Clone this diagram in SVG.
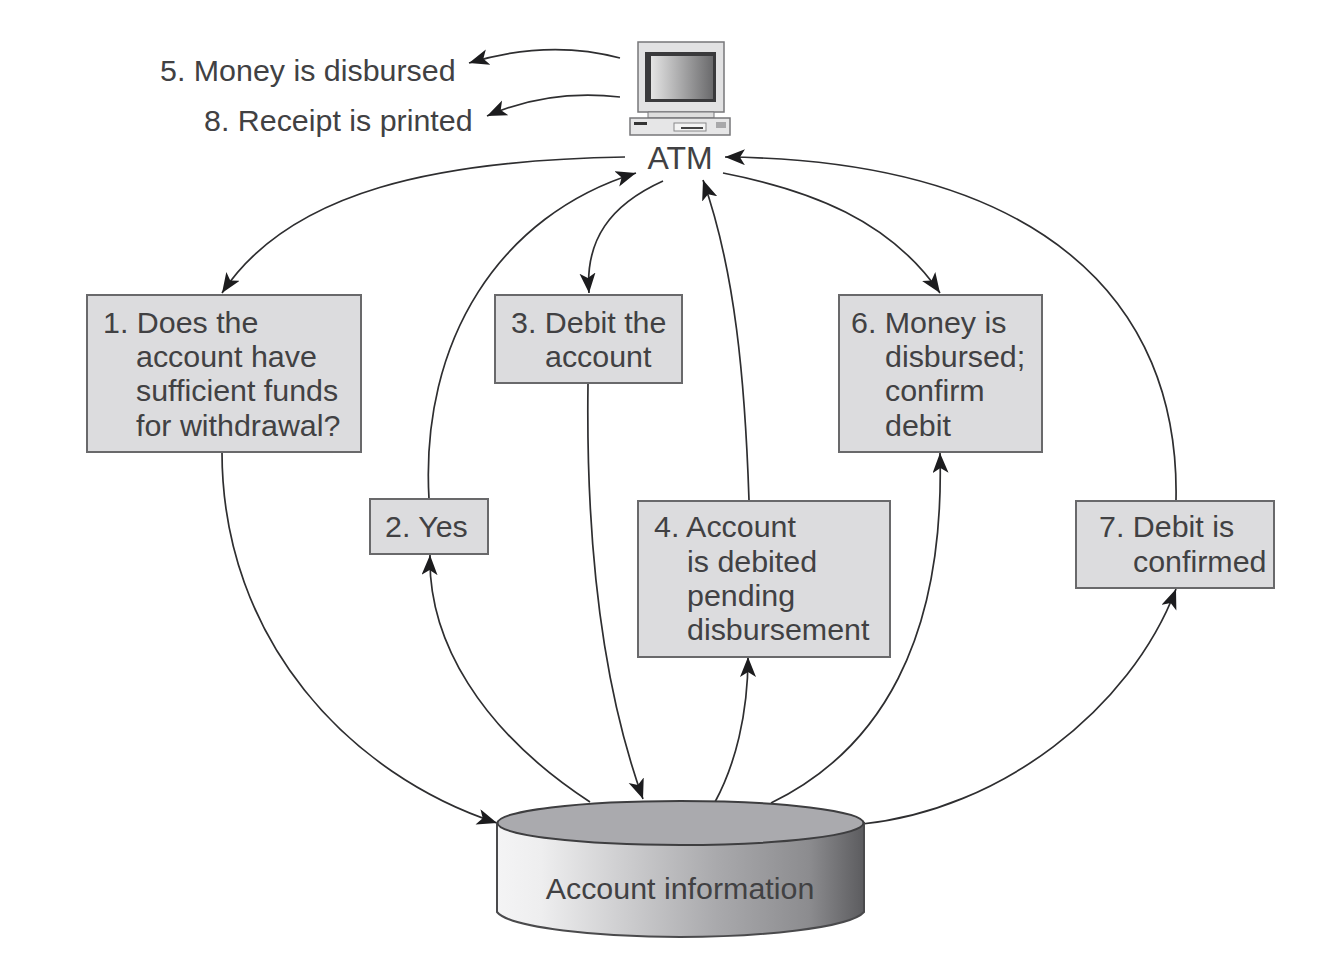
<svg xmlns="http://www.w3.org/2000/svg" width="1322" height="966" viewBox="0 0 1322 966">
<style>
text{font-family:"Liberation Sans",Arial,sans-serif;font-size:30.400px;fill:#414143}
.box{fill:#dcdcde;stroke:#69696b;stroke-width:2}
.c{fill:none;stroke:#2e2e30;stroke-width:1.7;marker-end:url(#a)}
</style>
<defs>
<marker id="a" markerUnits="userSpaceOnUse" markerWidth="24" markerHeight="18" refX="20" refY="8" orient="auto"><path d="M0 0L20 8L0 16L5 8Z" fill="#1c1c1e"/></marker>
<linearGradient id="cy"><stop offset="0" stop-color="#f4f4f5"/><stop offset=".12" stop-color="#eeeeef"/><stop offset=".6" stop-color="#a9a9ac"/><stop offset=".85" stop-color="#8c8c8f"/><stop offset="1" stop-color="#5c5c5f"/></linearGradient>
<linearGradient id="sc"><stop offset="0" stop-color="#e4e4e4"/><stop offset="1" stop-color="#6a6a6c"/></linearGradient>
</defs>
<rect width="1322" height="966" fill="#fff"/>
<g id="connectors">
<path class="c" d="M620 58C575 46 525 46 469 63"/>
<path class="c" d="M620 97C575 92 530 97 487 116"/>
<path class="c" d="M625 157C440 160 290 190 222 293"/>
<path class="c" d="M222 452C222 640 350 775 497 823"/>
<path class="c" d="M590 802C480 730 428 640 430 555"/>
<path class="c" d="M429 499C420 340 500 215 636 173"/>
<path class="c" d="M663 181C610 205 585 240 589 293"/>
<path class="c" d="M588 384C586 530 600 680 643 799"/>
<path class="c" d="M715 802C735 765 748 715 748 657"/>
<path class="c" d="M749 500C745 380 735 270 703 180"/>
<path class="c" d="M723 173C810 190 890 220 940 293"/>
<path class="c" d="M771 803C880 750 945 640 940 453"/>
<path class="c" d="M862 824C1000 810 1130 710 1176 589"/>
<path class="c" d="M1176 500C1180 300 1040 160 725 157"/>
</g>
<g id="atm">
<rect x="638" y="42" width="86" height="70" fill="#e2e2e3" stroke="#77777a" stroke-width="1.500"/>
<rect x="645" y="52" width="71" height="50" fill="#3a3a3c"/>
<rect x="651" y="56" width="62" height="43" fill="url(#sc)"/>
<path d="M648 112H714V118H648Z" fill="#dedede" stroke="#77777a"/>
<rect x="630" y="118" width="100" height="17" fill="#e6e6e7" stroke="#77777a" stroke-width="1.500"/>
<rect x="634" y="122" width="13" height="3" fill="#333"/>
<rect x="674" y="123" width="32" height="8" fill="#f4f4f4" stroke="#88888a"/>
<rect x="681" y="127" width="22" height="2" fill="#444"/>
<rect x="716" y="122" width="10" height="6" fill="#a8a8aa"/>
<text x="680" y="169" text-anchor="middle" style="font-size:32px">ATM</text>
</g>
<g id="label5"><text x="160" y="81">5. Money is disbursed</text></g>
<g id="label8"><text x="204" y="131">8. Receipt is printed</text></g>
<g id="node1"><rect class="box" x="87" y="295" width="274" height="157"/>
<text x="103" y="333">1. Does the</text><text x="136" y="367">account have</text><text x="136" y="401">sufficient funds</text><text x="136" y="436">for withdrawal?</text></g>
<g id="node2"><rect class="box" x="370" y="499" width="118" height="55"/><text x="385" y="537">2. Yes</text></g>
<g id="node3"><rect class="box" x="495" y="295" width="187" height="88"/>
<text x="511" y="333">3. Debit the</text><text x="545" y="367">account</text></g>
<g id="node4"><rect class="box" x="638" y="501" width="252" height="156"/>
<text x="654" y="537">4. Account</text><text x="687" y="572">is debited</text><text x="687" y="606">pending</text><text x="687" y="640">disbursement</text></g>
<g id="node6"><rect class="box" x="839" y="295" width="203" height="157"/>
<text x="851" y="333">6. Money is</text><text x="885" y="367">disbursed;</text><text x="885" y="401">confirm</text><text x="885" y="436">debit</text></g>
<g id="node7"><rect class="box" x="1076" y="501" width="198" height="87"/>
<text x="1099" y="537">7. Debit is</text><text x="1133" y="572">confirmed</text></g>
<g id="database">
<path d="M497 823V912C510 928 600 937 680 937C760 937 850 928 864 912V823Z" fill="url(#cy)" stroke="#4a4a4c" stroke-width="2"/>
<ellipse cx="680.500" cy="823" rx="183" ry="22" fill="#aaaaae" stroke="#3e3e40" stroke-width="2"/>
<text x="680" y="899" text-anchor="middle">Account information</text>
</g>
</svg>
